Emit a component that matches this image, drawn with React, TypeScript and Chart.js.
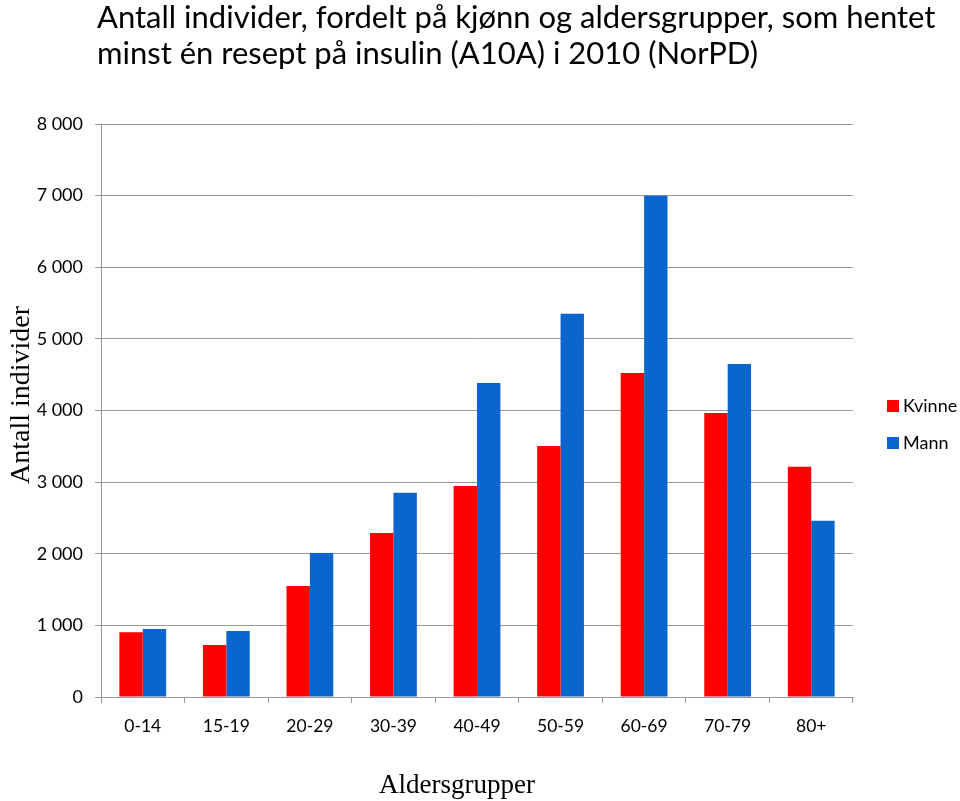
import React, { useEffect, useRef } from "react";
import { Chart, registerables } from "chart.js";

Chart.register(...registerables);

const titleLines = [
  "Antall individer, fordelt på kjønn og aldersgrupper, som hentet",
  "minst én resept på insulin (A10A) i 2010 (NorPD)",
];
const categories = ["0-14", "15-19", "20-29", "30-39", "40-49", "50-59", "60-69", "70-79", "80+"];
const kvinne = [905, 725, 1550, 2290, 2945, 3505, 4525, 3965, 3215];
const mann = [950, 920, 2010, 2850, 4385, 5350, 7000, 4650, 2460];
const seriesNames = ["Kvinne", "Mann"];
const seriesColors = ["#FF0000", "#0A66CC"];
const yAxisTitle = "Antall individer";
const xAxisTitle = "Aldersgrupper";

const UI_FONT = "Lato, 'Open Sans', sans-serif";
const SERIF = "'Liberation Serif', 'DejaVu Serif', serif";

const textPlugin = {
  id: "textPlugin",
  afterDraw(chart: any) {
    const ctx = chart.ctx;
    ctx.save();
    ctx.fillStyle = "#000";
    // Title
    ctx.font = `31px ${UI_FONT}`;
    ctx.textAlign = "left";
    ctx.textBaseline = "alphabetic";
    ctx.fillText(titleLines[0], 97, 28);
    ctx.fillText(titleLines[1], 97, 64);
    // X axis title
    ctx.font = `27px ${SERIF}`;
    ctx.textAlign = "center";
    ctx.fillText(xAxisTitle, 457, 793);
    // Y axis title
    ctx.save();
    ctx.font = `28px ${SERIF}`;
    ctx.translate(29, 395);
    ctx.rotate(-Math.PI / 2);
    ctx.textAlign = "center";
    ctx.fillText(yAxisTitle, 0, 0);
    ctx.restore();
    // Legend
    ctx.font = `18px ${UI_FONT}`;
    ctx.textAlign = "left";
    ctx.textBaseline = "middle";
    chart.data.datasets.forEach((ds: any, i: number) => {
      const top = 400 + i * 37;
      ctx.fillStyle = ds.backgroundColor;
      ctx.fillRect(887, top, 12, 12);
      ctx.fillStyle = "#000";
      ctx.fillText(ds.label, 903, top + 6.5);
    });
    ctx.restore();
  },
};

export default function App() {
  const ref = useRef<HTMLCanvasElement | null>(null);
  useEffect(() => {
    document.body.style.margin = "0";
    const chart = new Chart(ref.current!, {
      type: "bar",
      data: {
        labels: categories,
        datasets: [
          { label: seriesNames[0], data: kvinne, backgroundColor: seriesColors[0], barPercentage: 1, categoryPercentage: 0.56 },
          { label: seriesNames[1], data: mann, backgroundColor: seriesColors[1], barPercentage: 1, categoryPercentage: 0.56 },
        ],
      },
      options: {
        animation: false,
        responsive: false,
        layout: { padding: { top: 124, left: 0, right: 107, bottom: 0 } },
        plugins: {
          title: { display: false },
          tooltip: { enabled: false },
          legend: { display: false },
        },
        scales: {
          x: {
            afterFit: (scale: any) => {
              scale.height = 104;
            },
            grid: { display: true, drawOnChartArea: false, drawTicks: true, tickLength: 6, color: "#999", offset: true },
            border: { display: true, color: "#999", width: 1 },
            ticks: { color: "#000", font: { family: UI_FONT, size: 17.5 }, padding: 13 },
          },
          y: {
            min: 0,
            max: 8000,
            afterFit: (scale: any) => {
              scale.width = 101;
            },
            ticks: {
              stepSize: 1000,
              color: "#000",
              font: { family: UI_FONT, size: 18 },
              padding: 12,
              callback: (v: any) => {
                const n = Number(v);
                return n >= 1000 ? `${Math.floor(n / 1000)} ${String(n % 1000).padStart(3, "0")}` : String(n);
              },
            },
            grid: { color: "#999", tickLength: 6, lineWidth: 1 },
            border: { display: true, color: "#999", width: 1 },
          },
        },
      },
      plugins: [textPlugin],
    });
    return () => chart.destroy();
  }, []);
  return (
    <div style={{ position: "absolute", left: 0, top: 0, width: 960, height: 801 }}>
      <canvas ref={ref} width={960} height={801} style={{ width: 960, height: 801 }} />
    </div>
  );
}
